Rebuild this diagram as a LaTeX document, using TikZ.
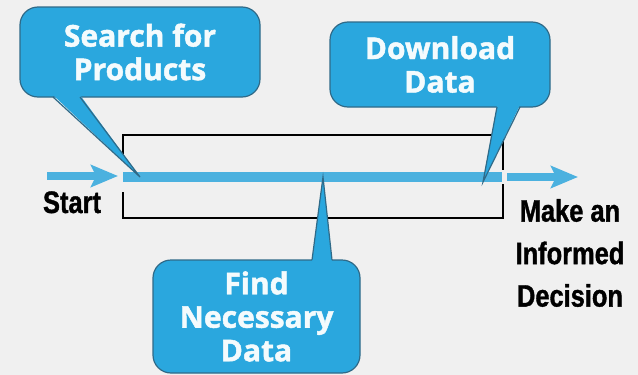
\documentclass[tikz,border=0pt]{standalone}
\usepackage{fontspec}
\usetikzlibrary{arrows.meta}
\newfontfamily\bubblefont{Open Sans}[FakeBold=1.6]
\newfontfamily\condfont{Liberation Sans}[FakeStretch=0.82,FakeBold=1.2]
\definecolor{bg}{HTML}{F0F0F0}
\definecolor{bfill}{HTML}{2AA7DE}
\definecolor{bedge}{HTML}{2F6A88}
\definecolor{flow}{HTML}{4BB1DF}
\definecolor{btext}{HTML}{F4FBFD}
\begin{document}
\begin{tikzpicture}[x=1pt,y=-1pt,
  bubble/.style={fill=bfill,draw=bedge,line width=1.2pt,rounded corners=18pt,text=btext,align=center,
    font=\bubblefont\bfseries\fontsize{30}{33.5}\selectfont,inner sep=0pt},
  tail/.style={fill=bfill},
  tailedge/.style={draw=bedge,line width=1.2pt,line join=miter},
  blacktext/.style={font=\condfont\bfseries\fontsize{31}{42.5}\selectfont,align=center,text=black,inner sep=0pt},
  bracket/.style={draw=black,line width=1.5pt,line join=miter},
  flowline/.style={draw=flow,line width=10pt},
  flowarrow/.style={draw=flow,line width=8pt,-{Stealth[length=27pt,width=22pt,inset=5pt]}}]
\fill[bg] (0,0) rectangle (638,375);
\useasboundingbox (0,0) rectangle (638,375);
% brackets
\draw[bracket] (123,155) -- (123,135) -- (503,135) -- (503,170);
\draw[bracket] (123,192) -- (123,218) -- (503,218) -- (503,184);
% flow
\coordinate (lineS) at (123,177);
\coordinate (lineE) at (502,177);
\draw[flowline] (lineS) -- (lineE);
\coordinate (inS) at (47,176);
\coordinate (inE) at (118,176);
\draw[flowarrow] (inS) -- (inE);
\coordinate (outS) at (507,177);
\coordinate (outE) at (578,177);
\draw[flowarrow] (outS) -- (outE);
% texts
\node[blacktext,anchor=base] (start) at (72,213) {Start};
\node[blacktext] (decide) at (570,253) {Make an\\Informed\\Decision};
% bubbles
\node[bubble,minimum width=240pt,minimum height=90pt] (search) at (140,52) {Search for\\Products};
\coordinate (tipA) at (140,177);
\fill[tail] (53,95) -- (tipA) -- (80,95) -- cycle;
\draw[tailedge] (53,97) -- (tipA) -- (80,97);
\node[bubble,minimum width=220pt,minimum height=85pt] (download) at (440,64.5) {Download\\Data};
\coordinate (tipB) at (483,182);
\fill[tail] (497,105) -- (tipB) -- (520,105) -- cycle;
\draw[tailedge] (497,107) -- (tipB) -- (520,107);
\node[bubble,minimum width=207pt,minimum height=113pt] (find) at (256.5,316.5) {Find\\Necessary\\Data};
\coordinate (tipC) at (323,177);
\fill[tail] (312,262) -- (tipC) -- (332,262) -- cycle;
\draw[tailedge] (312,260) -- (tipC) -- (332,260);
\end{tikzpicture}
\end{document}
